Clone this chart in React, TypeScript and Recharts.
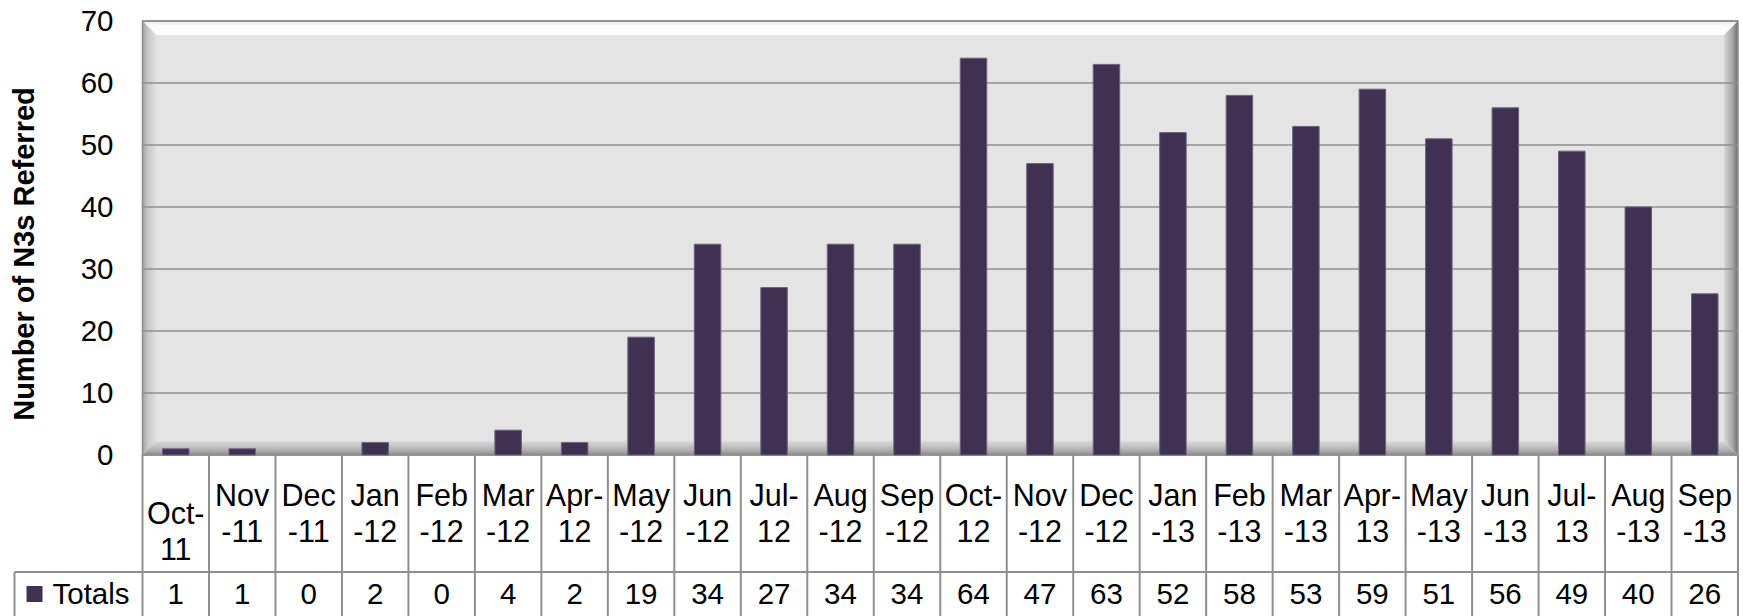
import React from 'react';
import { BarChart, Bar, XAxis, YAxis, CartesianGrid, ReferenceArea } from 'recharts';

const MONTHS = [
  'Oct-11', 'Nov-11', 'Dec-11', 'Jan-12', 'Feb-12', 'Mar-12', 'Apr-12', 'May-12',
  'Jun-12', 'Jul-12', 'Aug-12', 'Sep-12', 'Oct-12', 'Nov-12', 'Dec-12', 'Jan-13',
  'Feb-13', 'Mar-13', 'Apr-13', 'May-13', 'Jun-13', 'Jul-13', 'Aug-13', 'Sep-13',
];
const TOTALS = [1, 1, 0, 2, 0, 4, 2, 19, 34, 27, 34, 34, 64, 47, 63, 52, 58, 53, 59, 51, 56, 49, 40, 26];
const Y_TICKS = [0, 10, 20, 30, 40, 50, 60, 70];
const SERIES_NAME = 'Totals';
const Y_TITLE = 'Number of N3s Referred';

const W = 1743;
const H = 616;
const LEFT = 142.5;
const RIGHT_PAD = 5;
const COL_W = (W - RIGHT_PAD - LEFT) / MONTHS.length;
const BAR_COLOR = '#403152';
const LINE = '#8f8f8f';
const FONT = '"Liberation Sans", Arial, sans-serif';

// months whose hyphen stays on the first line when the label wraps
const KEEP_HYPHEN = new Set(['Oct', 'Apr', 'Jul']);

const data = MONTHS.map((m, i) => ({ month: m, total: TOTALS[i] }));

function splitLabel(label: string): [string, string] {
  const [mon, yr] = label.split('-');
  return KEEP_HYPHEN.has(mon) ? [mon + '-', yr] : [mon, '-' + yr];
}

const PlotFrame = (p: any) => {
  const { x, y, width: w, height: h } = p;
  const b = 14;
  return (
    <g>
      <defs>
        <linearGradient id="bvTop" x1="0" y1="0" x2="0" y2="1">
          <stop offset="0" stopColor="#e6e6e6" />
          <stop offset="0.3" stopColor="#fbfbfb" />
          <stop offset="1" stopColor="#ffffff" />
        </linearGradient>
        <linearGradient id="bvLeft" x1="0" y1="0" x2="1" y2="0">
          <stop offset="0" stopColor="#a4a4a4" />
          <stop offset="0.4" stopColor="#c8c8c8" />
          <stop offset="1" stopColor="#e0e0e0" />
        </linearGradient>
        <linearGradient id="bvRight" x1="0" y1="0" x2="1" y2="0">
          <stop offset="0" stopColor="#d6d6d6" />
          <stop offset="0.6" stopColor="#a8a8a8" />
          <stop offset="1" stopColor="#6e6e6e" />
        </linearGradient>
        <linearGradient id="bvBottom" x1="0" y1="0" x2="0" y2="1">
          <stop offset="0" stopColor="#dadada" />
          <stop offset="0.6" stopColor="#b4b4b4" />
          <stop offset="1" stopColor="#8c8c8c" />
        </linearGradient>
      </defs>
      <rect x={x} y={y} width={w} height={h} fill="#e4e4e4" />
      <polygon points={`${x},${y} ${x + w},${y} ${x + w - b},${y + b} ${x + b},${y + b}`} fill="url(#bvTop)" />
      <polygon points={`${x},${y} ${x + b},${y + b} ${x + b},${y + h - b} ${x},${y + h}`} fill="url(#bvLeft)" />
      <polygon points={`${x + w},${y} ${x + w},${y + h} ${x + w - b},${y + h - b} ${x + w - b},${y + b}`} fill="url(#bvRight)" />
      <polygon points={`${x},${y + h} ${x + w},${y + h} ${x + w - b},${y + h - b} ${x + b},${y + h - b}`} fill="url(#bvBottom)" />
      <rect x={x} y={y} width={w} height={h} fill="none" stroke={LINE} strokeWidth={1.5} />
    </g>
  );
};

// draws one column of the data table under the plot
const TableTick = (props: any) => {
  const { x, y, payload, index } = props;
  const left = x - COL_W / 2;
  const right = x + COL_W / 2;
  const rowSplit = y + 117;
  const [l1, l2] = splitLabel(payload.value);
  const shift = index === 0 ? 18 : 0;
  const mid = y + 58.5 + shift;
  const last = index === MONTHS.length - 1;
  return (
    <g fontFamily={FONT}>
      <line x1={left} y1={y} x2={left} y2={H} stroke={LINE} strokeWidth={2} />
      {last && <line x1={right} y1={y} x2={right} y2={H} stroke={LINE} strokeWidth={2} />}
      <line x1={left} y1={rowSplit} x2={right} y2={rowSplit} stroke={LINE} strokeWidth={2} />
      <text x={x} y={mid - 18} dy="0.35em" textAnchor="middle" fontSize={30.5} fill="#000">{l1}</text>
      <text x={x} y={mid + 18} dy="0.35em" textAnchor="middle" fontSize={30.5} fill="#000">{l2}</text>
      <text x={x} y={rowSplit + 22} dy="0.35em" textAnchor="middle" fontSize={29.5} fill="#000">
        {TOTALS[index]}
      </text>
      {index === 0 && (
        <g>
          <line x1={left - 128} y1={rowSplit} x2={left} y2={rowSplit} stroke={LINE} strokeWidth={2} />
          <line x1={left - 128} y1={rowSplit} x2={left - 128} y2={H} stroke={LINE} strokeWidth={2} />
          <rect x={left - 116} y={rowSplit + 14} width={16} height={16} fill={BAR_COLOR} />
          <text x={left - 90} y={rowSplit + 22} dy="0.35em" fontSize={29.5} fill="#000">{SERIES_NAME}</text>
        </g>
      )}
    </g>
  );
};

const YTitle = (props: any) => {
  const vb = props.viewBox || { x: 0, y: 21, width: LEFT, height: 434 };
  const cx = vb.x + 24;
  const cy = vb.y + vb.height / 2 + 16;
  return (
    <text
      x={cx}
      y={cy}
      transform={`rotate(-90 ${cx} ${cy})`}
      textAnchor="middle"
      dy="0.35em"
      fontFamily={FONT}
      fontWeight={700}
      fontSize={29}
      fill="#000"
    >
      {Y_TITLE}
    </text>
  );
};

export default function App() {
  return (
    <div style={{ position: 'absolute', left: 0, top: 0, width: W, height: H, overflow: 'hidden', background: '#fff' }}>
      <BarChart
        width={W}
        height={H}
        data={data}
        margin={{ top: 21, right: RIGHT_PAD, bottom: 0, left: 0 }}
        barSize={26.5}
      >
        <ReferenceArea y1={0} y2={70} shape={PlotFrame} zIndex={-200} ifOverflow="visible" />
        <CartesianGrid vertical={false} stroke={LINE} strokeWidth={1.5} />
        <XAxis
          dataKey="month"
          height={161}
          interval={0}
          axisLine={false}
          tickLine={false}
          tickSize={0}
          tickMargin={0}
          tick={<TableTick />}
        />
        <YAxis
          width={LEFT}
          domain={[0, 70]}
          ticks={Y_TICKS}
          axisLine={false}
          tickLine={false}
          tickSize={0}
          tickMargin={29}
          tick={{ fontSize: 29.5, fill: '#000', fontFamily: FONT }}
          label={<YTitle />}
        />
        <Bar dataKey="total" fill={BAR_COLOR} stroke="#6d6181" strokeWidth={1} isAnimationActive={false} />
      </BarChart>
    </div>
  );
}
